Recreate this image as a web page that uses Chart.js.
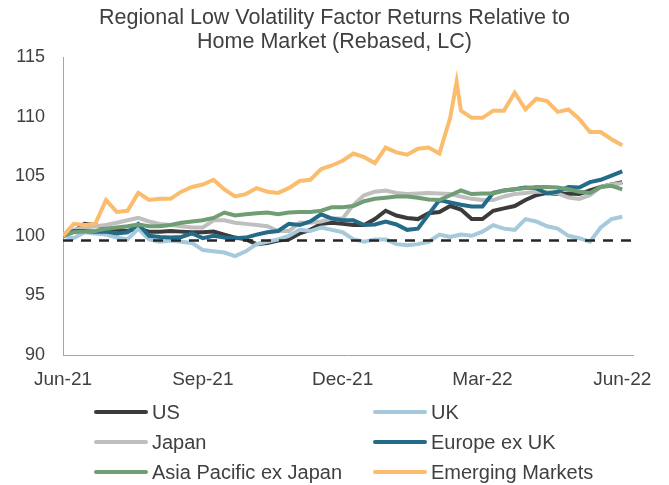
<!DOCTYPE html>
<html>
<head>
<meta charset="utf-8">
<script src="https://cdn.jsdelivr.net/npm/chart.js@4"></script>
<style>
  body { margin: 0; background: #fff; font-family: "Liberation Sans", Arial, sans-serif; }
  #wrap { position: relative; width: 669px; height: 485px; }
  .leg { position: absolute; display: flex; align-items: center; font-size: 20px; color: #404040; white-space: nowrap; }
  .leg .swatch { width: 54px; height: 4px; border-radius: 2px; margin-right: 4px; }
</style>
</head>
<body>
<div id="wrap">
  <canvas id="chart" width="669" height="485"></canvas>
</div>
<script>
// ====================== DATA ======================
const weeks = [0,1,2,3,4,5,6,7,8,9,10,11,12,13,14,15,16,17,18,19,20,21,22,23,24,25,26,
               27,28,29,30,31,32,33,34,35,36,37,38,39,40,41,42,43,44,45,46,47,48,49,50,51,52];
const tickWeeks = [0, 13, 26, 39, 52];
const tickLabels = ['Jun-21', 'Sep-21', 'Dec-21', 'Mar-22', 'Jun-22'];
const titleLines = ['Regional Low Volatility Factor Returns Relative to', 'Home Market (Rebased, LC)'];

const usValues = [100.0,100.35,101.0,100.9,100.6,100.5,100.4,100.6,100.35,100.35,100.4,100.35,100.3,100.3,100.35,100.1,99.85,99.7,99.3,99.4,99.6,99.7,100.2,100.5,101.0,101.1,101.0,
                  100.9,100.9,101.4,102.1,101.7,101.5,101.4,101.9,102.0,102.5,102.2,101.4,101.4,102.1,102.3,102.5,103.0,103.4,103.6,103.5,103.55,103.5,103.8,104.1,104.3,104.5];
const ukValues = [100.0,99.8,100.3,100.2,100.1,99.85,99.7,100.6,99.7,99.5,99.6,99.5,99.4,98.8,98.7,98.6,98.3,98.7,99.3,99.5,99.7,100.0,100.5,100.4,100.7,100.5,100.3,
                  99.7,99.5,99.7,99.7,99.3,99.2,99.3,99.5,100.1,99.9,100.1,100.0,100.35,100.9,100.6,100.5,101.4,101.2,100.8,100.6,100.0,99.8,99.5,100.7,101.4,101.6];
const japanValues = [100.0,100.5,100.7,100.8,100.9,101.1,101.3,101.5,101.2,101.0,100.9,100.8,100.7,100.7,101.3,101.3,101.1,101.0,100.9,100.8,100.4,100.4,101.1,101.1,101.2,101.45,101.45,
                     102.6,103.4,103.7,103.8,103.6,103.5,103.55,103.6,103.55,103.5,103.3,103.1,103.0,103.0,103.3,103.5,103.6,103.7,103.7,103.55,103.2,103.1,103.4,104.1,104.3,104.4];
const europeValues = [100.0,100.4,100.4,100.35,100.35,100.2,100.3,101.0,100.0,99.9,99.85,99.9,100.2,99.8,100.0,99.85,99.8,99.85,100.1,100.3,100.4,101.0,100.9,101.2,101.8,101.45,101.3,
                      101.3,100.9,100.95,101.2,100.95,100.5,100.6,101.8,103.0,102.8,102.6,102.45,102.45,103.6,103.8,103.9,104.05,104.0,103.55,103.7,104.1,104.05,104.5,104.7,105.05,105.4];
const asiaValues = [100.0,100.3,100.35,100.4,100.6,100.7,100.8,100.95,100.8,100.8,100.9,101.1,101.2,101.3,101.5,101.95,101.7,101.8,101.9,101.95,101.8,101.95,102.0,102.0,102.1,102.4,102.4,
                    102.5,102.9,103.1,103.2,103.3,103.3,103.2,103.05,103.0,103.4,103.8,103.5,103.55,103.55,103.8,103.9,104.0,104.1,104.1,104.05,103.9,103.7,103.6,104.1,104.2,103.9];
const emWeeks = [0,1,2,3,4,5,6,7,8,9,10,11,12,13,14,15,16,17,18,19,20,21,22,23,24,25,26,
                 27,28,29,30,31,32,33,34,35,36,36.6,37,38,39,40,41,42,43,44,45,46,47,48,49,50,51,52];
const emValues = [100.0,101.0,100.9,101.0,103.0,102.0,102.1,103.6,103.0,103.1,103.1,103.7,104.1,104.3,104.7,103.9,103.3,103.5,104.0,103.7,103.6,104.0,104.6,104.7,105.6,105.9,106.3,
                  106.9,106.6,106.1,107.4,107.0,106.8,107.3,107.4,106.9,109.9,112.9,110.5,109.9,109.9,110.5,110.5,112.0,110.6,111.5,111.3,110.4,110.6,109.8,108.7,108.7,108.1,107.6];
const baseWeeks = [0, 53];
const baseValues = [99.6, 99.6];

const TEXT = '#404040';
const AXIS = '#a6a6a6';

function pts(xs, ys) {
    return xs.map((x, i) => ({ x, y: ys[i] }));
}

const series = [
    { label: 'US',                     xs: weeks,   ys: usValues,     color: '#3b3b3b', order: 6 },
    { label: 'UK',                     xs: weeks,   ys: ukValues,     color: '#a6cadc', order: 5 },
    { label: 'Japan',                  xs: weeks,   ys: japanValues,  color: '#bfbfbf', order: 4 },
    { label: 'Europe ex UK',           xs: weeks,   ys: europeValues, color: '#246a89', order: 3 },
    { label: 'Asia Pacific ex Japan',  xs: weeks,   ys: asiaValues,   color: '#6f9d74', order: 2 },
    { label: 'Emerging Markets',       xs: emWeeks, ys: emValues,     color: '#fbbd6d', order: 1 }
];

const datasets = series.map(s => ({
    label: s.label,
    data: pts(s.xs, s.ys),
    borderColor: s.color,
    backgroundColor: s.color,
    borderWidth: 4,
    pointRadius: 0,
    tension: 0,
    order: s.order
}));
datasets.push({
    label: 'Base',
    data: pts(baseWeeks, baseValues),
    borderColor: '#262626',
    borderWidth: 2.5,
    borderDash: [10, 8],
    pointRadius: 0,
    order: 0
});

// title centred on the whole canvas (the built-in one centres on the padded box)
const canvasTitle = {
    id: 'canvasTitle',
    afterDraw(chart) {
        const c = chart.ctx;
        c.save();
        c.fillStyle = TEXT;
        c.font = '21.5px "Liberation Sans", Arial, sans-serif';
        c.textAlign = 'center';
        c.textBaseline = 'middle';
        titleLines.forEach((line, i) => c.fillText(line, chart.width / 2, 18 + i * 24));
        c.restore();
    }
};

// ====================== CHART ======================
const ctx = document.getElementById('chart').getContext('2d');
new Chart(ctx, {
    type: 'line',
    data: { datasets },
    plugins: [canvasTitle],
    options: {
        responsive: false,
        animation: false,
        layout: { padding: { top: 57, right: 36, bottom: 0, left: 0 } },
        plugins: {
            legend: { display: false },
            tooltip: { enabled: false },
            title: { display: false }
        },
        scales: {
            x: {
                type: 'linear',
                min: 0,
                max: 53,
                grid: { display: false },
                border: { display: true, color: AXIS, width: 1 },
                afterBuildTicks: axis => { axis.ticks = tickWeeks.map(v => ({ value: v })); },
                afterFit: scale => { scale.height = 130; },
                ticks: {
                    autoSkip: false,
                    maxRotation: 0,
                    padding: 5,
                    color: TEXT,
                    font: { family: 'Liberation Sans', size: 19 },
                    callback: value => tickLabels[tickWeeks.indexOf(value)]
                }
            },
            y: {
                min: 90,
                max: 115,
                grid: { display: false },
                border: { display: true, color: AXIS, width: 1 },
                afterFit: scale => { scale.width = 63; },
                ticks: {
                    stepSize: 5,
                    padding: 10,
                    color: TEXT,
                    font: { family: 'Liberation Sans', size: 18 }
                }
            }
        }
    }
});

// ====================== LEGEND ======================
const legendPos = [
    { left: 94,  top: 412 }, { left: 373, top: 412 },
    { left: 94,  top: 442 }, { left: 373, top: 442 },
    { left: 94,  top: 472 }, { left: 373, top: 472 }
];
const wrap = document.getElementById('wrap');
series.forEach((s, i) => {
    const item = document.createElement('div');
    item.className = 'leg';
    item.style.left = legendPos[i].left + 'px';
    item.style.top = (legendPos[i].top - 11) + 'px';
    item.style.height = '22px';
    item.innerHTML = '<span class="swatch" style="background:' + s.color + '"></span><span>' + s.label + '</span>';
    wrap.appendChild(item);
});
</script>
</body>
</html>
